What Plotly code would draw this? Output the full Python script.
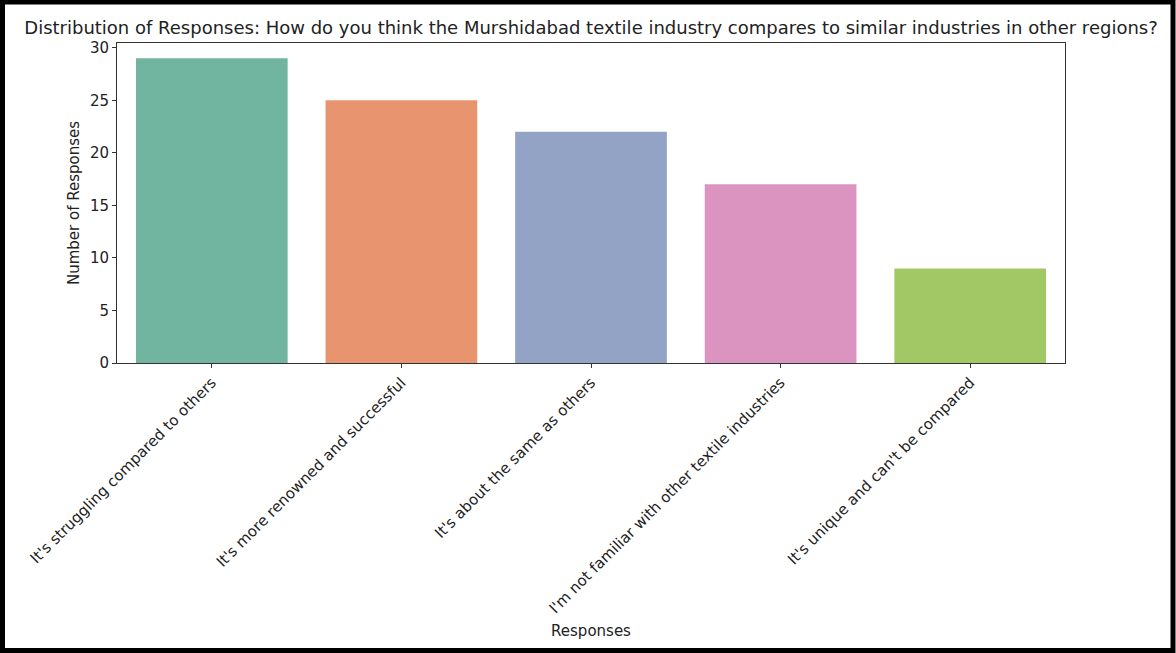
import plotly.graph_objects as go

categories = [
    "It's struggling compared to others",
    "It's more renowned and successful",
    "It's about the same as others",
    "I'm not familiar with other textile industries",
    "It's unique and can't be compared",
]
counts = [29, 25, 22, 17, 9]
bar_colors = ["#71b5a0", "#e8956f", "#93a3c5", "#db93c0", "#a2c866"]

title_text = ("Distribution of Responses: How do you think the Murshidabad textile "
              "industry compares to similar industries in other regions?")

W, H = 1176, 653
L, R, T, B = 117, 1065, 43, 363  # plot area pixel bounds

fig = go.Figure(go.Bar(
    x=list(range(len(categories))),
    y=counts,
    marker=dict(color=bar_colors, line=dict(width=0)),
    width=0.8,
))

def px_to_paper_x(px):
    return (px - L) / (R - L)

def px_to_paper_y(py):
    return (B - py) / (B - T)

fig.add_shape(type="rect", xref="paper", yref="paper",
              x0=px_to_paper_x(2.5), x1=px_to_paper_x(1173),
              y0=px_to_paper_y(650.5), y1=px_to_paper_y(2),
              line=dict(color="black", width=5), fillcolor="rgba(0,0,0,0)")

font_family = "DejaVu Sans"
fig.update_layout(
    width=W, height=H,
    margin=dict(l=L, r=W - R, t=T, b=H - B, autoexpand=False),
    paper_bgcolor="white", plot_bgcolor="white",
    font=dict(family=font_family, size=15, color="#222"),
    title=dict(text=title_text, x=0.5, xref="paper", xanchor="center",
               y=1 - 28 / H, yanchor="middle",
               font=dict(family=font_family, size=18, color="#222")),
    showlegend=False,
)
fig.update_xaxes(
    range=[-0.5, 4.5], automargin=False,
    tickmode="array", tickvals=list(range(len(categories))), ticktext=categories,
    tickangle=-45, ticks="outside", ticklen=4, tickcolor="#333",
    showline=True, linecolor="#333", linewidth=1, mirror=True,
    showgrid=False, zeroline=False,
    tickfont=dict(size=15, color="#222"),
    title=dict(text="Responses", standoff=9, font=dict(size=15, color="#222")),
)
fig.update_yaxes(
    range=[0, 30.45], automargin=False,
    tickmode="array", tickvals=[0, 5, 10, 15, 20, 25, 30],
    ticks="outside", ticklen=4, tickcolor="#333",
    showline=True, linecolor="#333", linewidth=1, mirror=True,
    showgrid=False, zeroline=False,
    tickfont=dict(size=15, color="#222"),
    title=dict(text="Number of Responses", standoff=6, font=dict(size=15, color="#222")),
)

fig.write_html("out.html", config={"displayModeBar": False},
               post_script="document.body.style.margin='0';document.body.style.overflow='hidden';")
